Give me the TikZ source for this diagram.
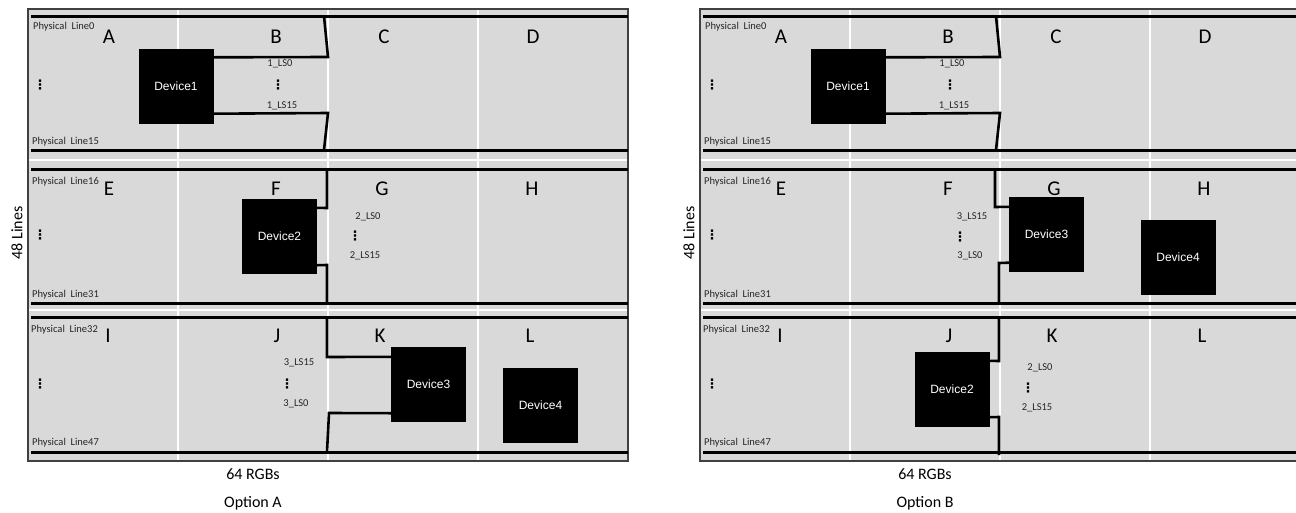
\documentclass[tikz,border=0pt]{standalone}
\usepackage{fontspec}
\setmainfont{Carlito}
\newfontfamily\arialf{Liberation Sans}
\newfontfamily\dvf{DejaVu Sans}
\definecolor{panelfill}{HTML}{D9D9D9}
\definecolor{bordergray}{HTML}{404040}
\tikzset{
  panelbox/.style={fill=panelfill, draw=bordergray, line width=1.6pt},
  gridln/.style={white, line width=1.6pt},
  bus/.style={black, line width=3pt},
  wire/.style={black, line width=2.6pt},
  dev/.style={fill=black, minimum width=75pt, minimum height=75pt, inner sep=0pt, text=white, font=\arialf\fontsize{12}{14}\selectfont},
  cell/.style={font=\fontsize{21}{24}\selectfont, inner sep=0pt},
  small/.style={font=\fontsize{10.5}{12}\selectfont, inner sep=0pt, text=black!85},
  vdots/.style={font=\dvf\bfseries\fontsize{13}{14}\selectfont, inner sep=0pt},
  caption/.style={font=\fontsize{16}{19}\selectfont, inner sep=0pt},
}
% common parts of one panel; #1 = name prefix
\newcommand\basepanel[1]{%
  \fill[panelfill] (28,9) rectangle (628,461);
  \foreach \gx in {178,328,478} \draw[gridln] (\gx,9) -- (\gx,461);
  \foreach \gy in {160,310} \draw[gridln] (28,\gy) -- (628,\gy);
  \draw[draw=bordergray, line width=1.6pt] (28,9) rectangle (628,461);
  \foreach \by in {16,150,169,303,317,452} \draw[bus] (31,\by) -- (628,\by);
  \node[cell] (#1A) at (109,37) {A};
  \node[cell] (#1B) at (276,37) {B};
  \node[cell] (#1C) at (384,37) {C};
  \node[cell] (#1D) at (533,37) {D};
  \node[cell] (#1E) at (109,189) {E};
  \node[cell] (#1F) at (276,189) {F};
  \node[cell] (#1G) at (382,189) {G};
  \node[cell] (#1H) at (532,189) {H};
  \node[cell] (#1I) at (108,336) {I};
  \node[cell] (#1J) at (277,336) {J};
  \node[cell] (#1K) at (380,336) {K};
  \node[cell] (#1L) at (530,336) {L};
  \node[small, anchor=west] (#1p0) at (33,27) {Physical\ \ Line0};
  \node[small, anchor=west] (#1p15) at (32,142) {Physical\ \ Line15};
  \node[small, anchor=west] (#1p16) at (32,182) {Physical\ \ Line16};
  \node[small, anchor=west] (#1p31) at (32,295) {Physical\ \ Line31};
  \node[small, anchor=west] (#1p32) at (31,330) {Physical\ \ Line32};
  \node[small, anchor=west] (#1p47) at (32,443) {Physical\ \ Line47};
  \node[vdots] (#1v1) at (40,85) {⋮};
  \node[vdots] (#1v2) at (40,235) {⋮};
  \node[vdots] (#1v3) at (40,384) {⋮};
  % Device1 and its wires
  \node[dev] (#1d1) at (176,86) {Device1};
  \coordinate (#1b1t) at (324,16);
  \coordinate (#1b1m) at (328,57);
  \coordinate (#1b1n) at (328,113);
  \coordinate (#1b1b) at (324,150);
  \draw[wire] ([yshift=-9pt]#1d1.north east) -- (#1b1m) -- (#1b1t);
  \draw[wire] ([yshift=10pt]#1d1.south east) -- (#1b1n) -- (#1b1b);
  \node[small] (#1l10) at (280,64) {1\_LS0};
  \node[vdots] (#1l1d) at (278,85) {⋮};
  \node[small] (#1l115) at (282,106) {1\_LS15};
  \node[caption, rotate=90] (#1lines) at (17,233) {48 Lines};
  \node[caption] (#1rgb) at (253,474) {64 RGBs};
}
\begin{document}
\begin{tikzpicture}[x=1pt,y=-1pt]
\useasboundingbox (0,0) rectangle (1296,512);
\clip (0,0) rectangle (1296,512);
% ---------- Option A ----------
\basepanel{a}
\node[caption] (optA) at (253,503) {Option A};
\node[dev] (ad2) at (279.5,236.5) {Device2};
\coordinate (a2t) at (327,169);
\coordinate (a2m) at (327,208);
\coordinate (a2n) at (327,265);
\coordinate (a2b) at (327,303);
\draw[wire] (a2t) -- (a2m) -- ([yshift=-9pt]ad2.north east);
\draw[wire] ([yshift=9pt]ad2.south east) -- (a2n) -- (a2b);
\node[small] (al20) at (368,217) {2\_LS0};
\node[vdots] (al2d) at (355,236) {⋮};
\node[small] (al215) at (365,256) {2\_LS15};
\node[dev] (ad3) at (428.5,384) {Device3};
\coordinate (a3t) at (327,317);
\coordinate (a3m) at (327,357);
\coordinate (a3n) at (329,413);
\coordinate (a3b) at (327,452);
\draw[wire] (a3t) -- (a3m) -- ([yshift=-10.5pt]ad3.north west);
\draw[wire] ([yshift=8.5pt]ad3.south west) -- (a3n) -- (a3b);
\node[small] (al315) at (299,363) {3\_LS15};
\node[vdots] (al3d) at (287,384) {⋮};
\node[small] (al30) at (296,404) {3\_LS0};
\node[dev] (ad4) at (540.5,405) {Device4};
% ---------- Option B ----------
\begin{scope}[shift={(672,0)}]
\basepanel{b}
\end{scope}
\node[caption] (optB) at (925,503) {Option B};
\node[dev] (bd3) at (1046.5,234.5) {Device3};
\coordinate (b3t) at (995,169);
\coordinate (b3m) at (995,207);
\coordinate (b3n) at (999,263);
\coordinate (b3b) at (999,303);
\draw[wire] (b3t) -- (b3m) -- ([yshift=-10pt]bd3.north west);
\draw[wire] ([yshift=9.5pt]bd3.south west) -- (b3n) -- (b3b);
\node[small] (bl315) at (972,217) {3\_LS15};
\node[vdots] (bl3d) at (960,237) {⋮};
\node[small] (bl30) at (970,256) {3\_LS0};
\node[dev] (bd4) at (1178,257.5) {Device4};
\node[dev] (bd2) at (952,389.5) {Device2};
\coordinate (b2t) at (999,317);
\coordinate (b2m) at (999,361);
\coordinate (b2n) at (999,417);
\coordinate (b2b) at (999,455);
\draw[wire] (b2t) -- (b2m) -- ([yshift=-9pt]bd2.north east);
\draw[wire] ([yshift=10pt]bd2.south east) -- (b2n) -- (b2b);
\node[small] (bl20) at (1040,368) {2\_LS0};
\node[vdots] (bl2d) at (1028,388) {⋮};
\node[small] (bl215) at (1037,408) {2\_LS15};
\end{tikzpicture}
\end{document}
